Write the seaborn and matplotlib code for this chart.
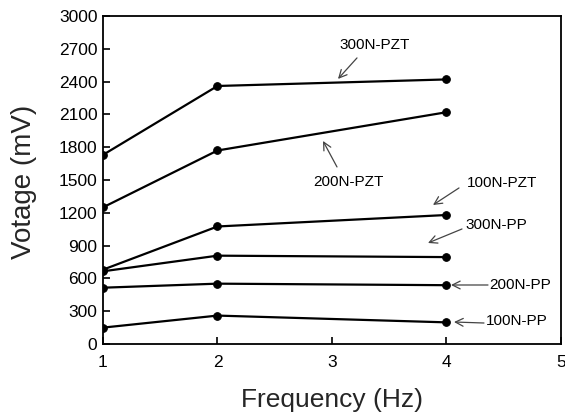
import matplotlib
matplotlib.use("Agg")
import matplotlib.pyplot as plt
import seaborn as sns
import pandas as pd

freq = [1, 2, 4]
series_names = ["300N-PZT", "200N-PZT", "100N-PZT", "300N-PP", "200N-PP", "100N-PP"]
v_300_pzt = [1730, 2360, 2420]
v_200_pzt = [1250, 1770, 2120]
v_100_pzt = [680, 1075, 1180]
v_300_pp = [665, 808, 795]
v_200_pp = [515, 552, 538]
v_100_pp = [150, 260, 198]
x_ticks = [1, 2, 3, 4, 5]
y_ticks = [0, 300, 600, 900, 1200, 1500, 1800, 2100, 2400, 2700, 3000]

values = [v_300_pzt, v_200_pzt, v_100_pzt, v_300_pp, v_200_pp, v_100_pp]
rows = []
for name, vals in zip(series_names, values):
    for f, v in zip(freq, vals):
        rows.append({"Frequency": f, "Voltage": v, "Series": name})
df = pd.DataFrame(rows)

sns.set_theme(style="ticks")
plt.rcParams["font.family"] = ["Liberation Sans", "DejaVu Sans"]

fig = plt.figure(figsize=(5.65, 4.18), dpi=100)
ax = fig.add_axes([0.1823, 0.177, 0.8106, 0.7847])

sns.lineplot(data=df, x="Frequency", y="Voltage", hue="Series",
             palette=["black"] * len(series_names), marker="o",
             markersize=5.5, markeredgecolor="black", linewidth=1.6,
             legend=False, ax=ax)

ax.set_xlim(1, 5)
ax.set_ylim(0, 3000)
ax.set_xticks(x_ticks)
ax.set_yticks(y_ticks)
ax.tick_params(direction="in", length=5, width=1.2, labelsize=12.5, colors="black", pad=8)
ax.tick_params(axis="y", pad=4)
for s in ax.spines.values():
    s.set_visible(True)
    s.set_linewidth(1.3)
    s.set_color("black")
ax.set_xlabel("Frequency (Hz)", fontsize=19, va="center")
ax.set_ylabel("Votage (mV)", fontsize=20, va="center")
ax.xaxis.set_label_coords(0.501, -0.171)
ax.yaxis.set_label_coords(-0.1725, 0.495)

def px2d(px, py):
    return (1 + (px - 103) / 114.5, (344 - py) / 0.1093)

annots = [
    ("300N-PZT", (375, 45), (357, 58), (338, 79)),
    ("200N-PZT", (348, 182), (337, 167), (323, 141)),
    ("100N-PZT", (502, 183), (459, 188), (433, 205)),
    ("300N-PP", (496, 225), (462, 229), (428, 243)),
    ("200N-PP", (520, 285), (488, 285), (451, 285)),
    ("100N-PP", (517, 321), (484, 323), (454, 322)),
]
for label, tpos, start, end in annots:
    ax.text(*px2d(*tpos), label, ha="center", va="center", fontsize=11, color="black")
    ax.annotate("", xy=px2d(*end), xytext=px2d(*start),
                arrowprops=dict(arrowstyle="->", color="#444444", lw=0.9,
                                shrinkA=0, shrinkB=0, mutation_scale=14))

fig.savefig("out.png", dpi=100)
